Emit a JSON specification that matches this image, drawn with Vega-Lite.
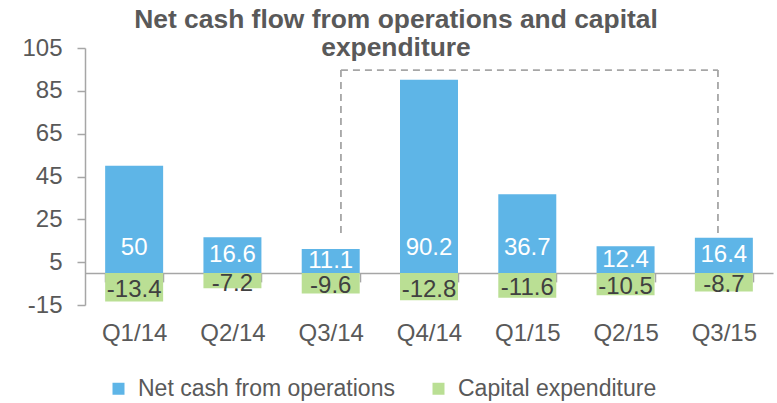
{
  "$schema": "https://vega.github.io/schema/vega-lite/v6.json",
  "width": 688,
  "height": 257,
  "autosize": {"type": "none"},
  "padding": {"left": 85, "top": 48, "right": 4, "bottom": 98},
  "config": {
    "font": "Liberation Sans",
    "view": {"stroke": null},
    "axis": {"grid": false}
  },
  "title": {
    "text": ["Net cash flow from operations and capital", "expenditure"],
    "fontSize": 26.4,
    "fontWeight": "bold",
    "color": "#595959",
    "anchor": "middle",
    "frame": "group",
    "dx": -33,
    "baseline": "alphabetic",
    "lineHeight": 28,
    "offset": -46
  },
  "datasets": {
    "flows": [
      {"quarter": "Q1/14", "series": "Net cash from operations", "value": 50},
      {"quarter": "Q2/14", "series": "Net cash from operations", "value": 16.6},
      {"quarter": "Q3/14", "series": "Net cash from operations", "value": 11.1},
      {"quarter": "Q4/14", "series": "Net cash from operations", "value": 90.2},
      {"quarter": "Q1/15", "series": "Net cash from operations", "value": 36.7},
      {"quarter": "Q2/15", "series": "Net cash from operations", "value": 12.4},
      {"quarter": "Q3/15", "series": "Net cash from operations", "value": 16.4},
      {"quarter": "Q1/14", "series": "Capital expenditure", "value": -13.4},
      {"quarter": "Q2/14", "series": "Capital expenditure", "value": -7.2},
      {"quarter": "Q3/14", "series": "Capital expenditure", "value": -9.6},
      {"quarter": "Q4/14", "series": "Capital expenditure", "value": -12.8},
      {"quarter": "Q1/15", "series": "Capital expenditure", "value": -11.6},
      {"quarter": "Q2/15", "series": "Capital expenditure", "value": -10.5},
      {"quarter": "Q3/15", "series": "Capital expenditure", "value": -8.7}
    ],
    "bracket": [
      {"x": 2.604, "x2": 2.604, "y": 18.6, "y2": 94.7},
      {"x": 2.604, "x2": 6.44, "y": 94.7, "y2": 94.7},
      {"x": 6.44, "x2": 6.44, "y": 94.7, "y2": 16.8}
    ]
  },
  "layer": [
    {
      "data": {"name": "flows"},
      "transform": [
        {"calculate": "datum.value > 0 ? min(datum.value / 2, 11.7) : datum.value / 2", "as": "labelY"},
        {"calculate": "toString(datum.value)", "as": "labelText"}
      ],
      "encoding": {
        "x": {
          "field": "quarter",
          "type": "nominal",
          "sort": ["Q1/14", "Q2/14", "Q3/14", "Q4/14", "Q1/15", "Q2/15", "Q3/15"],
          "scale": {"paddingInner": 0.41, "paddingOuter": 0.205},
          "axis": {
            "title": null,
            "offset": -32.1,
            "labelAngle": 0,
            "labelFontSize": 24,
            "labelColor": "#595959",
            "labelPadding": 40,
            "tickBand": "extent",
            "tickSize": 9,
            "tickColor": "#A6A6A6",
            "tickWidth": 1.5,
            "domainColor": "#A6A6A6",
            "domainWidth": 1.5
          }
        }
      },
      "layer": [
        {
          "mark": {"type": "bar"},
          "encoding": {
            "y": {
              "field": "value",
              "type": "quantitative",
              "scale": {"domain": [-15, 105], "nice": false, "zero": false},
              "axis": {
                "title": null,
                "values": [-15, 5, 25, 45, 65, 85, 105],
                "labelExpr": "toString(datum.value)",
                "labelFontSize": 24,
                "labelColor": "#595959",
                "labelPadding": 15,
                "tickSize": 8,
                "tickColor": "#A6A6A6",
                "tickWidth": 1.5,
                "domainColor": "#A6A6A6",
                "domainWidth": 1.5
              }
            },
            "color": {
              "field": "series",
              "type": "nominal",
              "sort": ["Net cash from operations", "Capital expenditure"],
              "scale": {"domain": ["Net cash from operations", "Capital expenditure"], "range": ["#5EB5E7", "#BADF94"]},
              "legend": {
                "title": null,
                "orient": "none",
                "direction": "horizontal",
                "legendX": 22,
                "legendY": 329,
                "symbolType": "square",
                "symbolSize": 144,
                "symbolStrokeWidth": 0,
                "labelFontSize": 23,
                "labelLimit": 0,
                "labelColor": "#595959",
                "labelOffset": 8,
                "columnPadding": 32
              }
            }
          }
        },
        {
          "transform": [{"filter": "datum.value > 0"}],
          "mark": {"type": "text", "fontSize": 24, "color": "#FFFFFF", "baseline": "middle"},
          "encoding": {
            "y": {"field": "labelY", "type": "quantitative"},
            "text": {"field": "labelText", "type": "nominal"}
          }
        },
        {
          "transform": [{"filter": "datum.value < 0"}],
          "mark": {"type": "text", "fontSize": 24, "color": "#404040", "baseline": "middle", "dy": 3},
          "encoding": {
            "y": {"field": "labelY", "type": "quantitative"},
            "text": {"field": "labelText", "type": "nominal"}
          }
        }
      ]
    },
    {
      "data": {"name": "bracket"},
      "mark": {"type": "rule", "color": "#A6A6A6", "strokeWidth": 1.8, "strokeDash": [7, 5]},
      "encoding": {
        "x": {"field": "x", "type": "quantitative", "scale": {"domain": [0, 7], "nice": false, "zero": false}, "axis": null},
        "x2": {"field": "x2"},
        "y": {"field": "y", "type": "quantitative"},
        "y2": {"field": "y2"}
      }
    }
  ],
  "resolve": {"scale": {"x": "independent"}}
}
